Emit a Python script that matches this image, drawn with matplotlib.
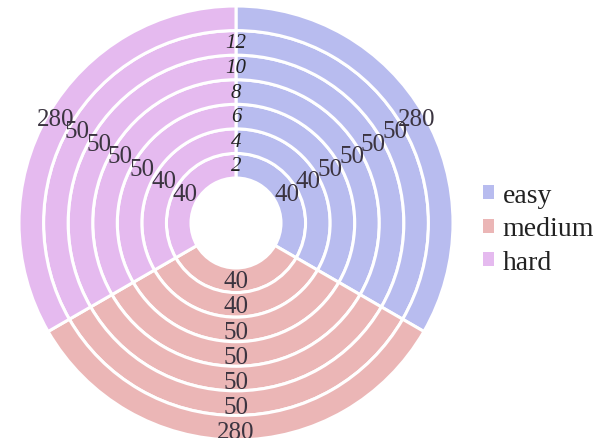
import matplotlib
matplotlib.use("Agg")
import matplotlib.pyplot as plt
from matplotlib.patches import Patch
import numpy as np

plt.rcParams['font.family'] = ['Liberation Serif', 'DejaVu Serif']

# Data: one ring per level, innermost first
categories = ["easy", "medium", "hard"]
easy = [40, 40, 50, 50, 50, 50, 280]
medium = [40, 40, 50, 50, 50, 50, 280]
hard = [40, 40, 50, 50, 50, 50, 280]
radius_ticks = ["2", "4", "6", "8", "10", "12"]

colors = ["#b8bcef", "#ebb6b6", "#e5baef"]
text_color = "#3b3440"

W, H = 603, 439
fig = plt.figure(figsize=(W / 100, H / 100), dpi=100)
ax = fig.add_axes([0, 0, 1, 1])

cx, cy = 236, H - 224
r_in, r_out = 45, 217
n = len(easy)
ring_w = (r_out - r_in) / n

for i in range(n):
    vals = [easy[i], medium[i], hard[i]]
    r = r_in + ring_w * (i + 1)
    wedges, _ = ax.pie(vals, radius=r, center=(cx, cy), startangle=90,
                       counterclock=False, colors=colors,
                       wedgeprops=dict(width=ring_w, edgecolor="white",
                                       linewidth=2.2))
    rm = (r - ring_w / 2) * 1.02
    for w, v in zip(wedges, vals):
        ang = np.deg2rad((w.theta1 + w.theta2) / 2)
        ax.text(cx + rm * np.cos(ang), cy + rm * np.sin(ang), str(v),
                ha="center", va="center", fontsize=18, color=text_color)

# radius axis labels along the top
for i, t in enumerate(radius_ticks):
    rm = r_in + ring_w * (i + 0.5)
    ax.text(cx, cy + rm, t, ha="center", va="center", fontsize=15,
            style="italic", color="#222222")

ax.set_xlim(0, W)
ax.set_ylim(0, H)
ax.set_aspect("equal")
ax.axis("off")

handles = [Patch(facecolor=c, edgecolor="none") for c in colors]
ax.legend(handles, categories, loc="center left",
          bbox_to_anchor=(472 / W, 1 - 230 / H), frameon=False,
          fontsize=20, handlelength=0.4, handleheight=0.4,
          handletextpad=0.3, labelspacing=0.3, borderaxespad=0,
          labelcolor="#222222")

fig.savefig("out.png", dpi=100)
